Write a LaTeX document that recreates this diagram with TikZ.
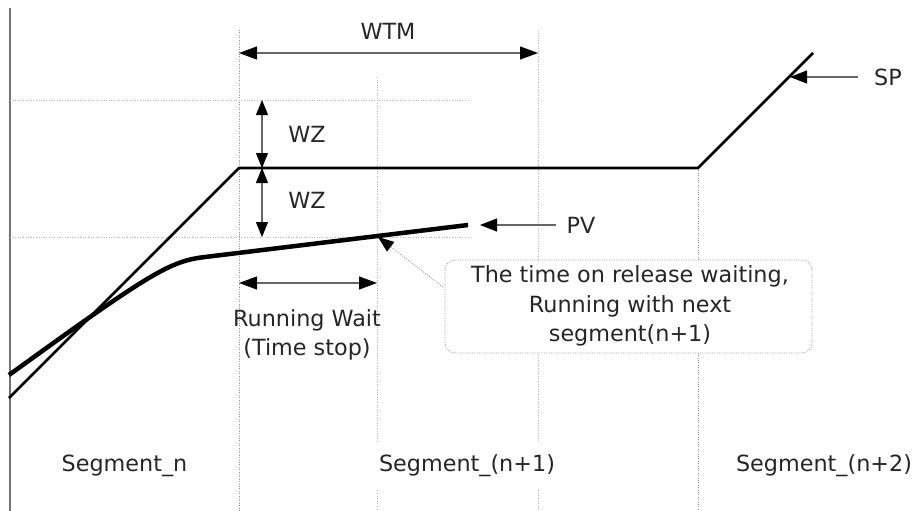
\documentclass[tikz,border=0pt]{standalone}
\usepackage{fontspec}
\setmainfont{DejaVu Sans}
\usetikzlibrary{arrows.meta}
\begin{document}
\begin{tikzpicture}[x=1pt,y=-1pt,
  txt/.style={font=\fontsize{22.3}{29.5}\selectfont, inner sep=0pt, text=black!85},
  gridd/.style={draw=black!45, line width=0.8pt, dash pattern=on 1pt off 1.4pt},
  gridl/.style={draw=black!30, line width=0.8pt, dash pattern=on 1pt off 1.6pt},
  dimarr/.style={{Triangle[length=18pt,width=13pt,color=black]}-{Triangle[length=18pt,width=13pt,color=black]}, line width=1.1pt, draw=black!60},
  zarr/.style={{Triangle[length=15pt,width=12pt,color=black]}-{Triangle[length=15pt,width=12pt,color=black]}, line width=1.1pt, draw=black!60},
  ptr/.style={-{Triangle[length=17pt,width=13pt,color=black]}, line width=1.1pt, draw=black!60},
  spline/.style={line width=2.6pt, line join=miter},
  pvline/.style={line width=4.5pt}]
\useasboundingbox (0,0) rectangle (918,511);

% named points
\coordinate (axT) at (10,8);
\coordinate (axB) at (10,511);
\coordinate (v1T) at (239,30);   \coordinate (v1B) at (239,511);
\coordinate (v2T) at (377,77);   \coordinate (v2B) at (377,511);
\coordinate (v3T) at (538,30);   \coordinate (v3B) at (538,511);
\coordinate (v4T) at (698,168);  \coordinate (v4B) at (698,511);
\coordinate (h1L) at (10,100);   \coordinate (h1R) at (470,100);
\coordinate (h2L) at (10,237);   \coordinate (h2R) at (470,237);
\coordinate (sp0) at (9,398);
\coordinate (sp1) at (239,168);
\coordinate (sp2) at (698,168);
\coordinate (sp3) at (813,53);
\coordinate (pv0) at (9,375);
\coordinate (pv1) at (205,257);
\coordinate (pv2) at (468,225);

% grid
\draw[line width=1.2pt, draw=black!55] (axT) -- (axB);
\draw[gridd] (v1T) -- (v1B);
\draw[gridl] (v2T) -- (v2B);
\draw[gridl] (v3T) -- (v3B);
\draw[gridd] (v4T) -- (v4B);
\draw[gridl] (h1L) -- (h1R);
\draw[gridl] (h2L) -- (h2R);

% SP and PV
\draw[spline] (sp0) -- (sp1) -- (sp2) -- (sp3);
\draw[pvline] (pv0) .. controls (150,273) and (170,261) .. (pv1) -- (pv2);

% WTM
\coordinate (wtmL) at (239,53);
\coordinate (wtmR) at (538,53);
\draw[dimarr] (wtmL) -- (wtmR);
\node[txt] (wtm) at (388,31) {WTM};

% WZ
\coordinate (wz0) at (262,100);
\coordinate (wz1) at (262,168);
\coordinate (wz2) at (262,237);
\draw[zarr] (wz0) -- (wz1);
\draw[zarr] (wz1) -- (wz2);
\node[txt] (wza) at (307,134) {WZ};
\node[txt] (wzb) at (307,200) {WZ};

% Running wait
\coordinate (rwL) at (239,283);
\coordinate (rwR) at (377,283);
\draw[dimarr] (rwL) -- (rwR);
\node[txt, align=center] (rw) at (307,335) {Running Wait\\(Time stop)};

% PV / SP pointers
\coordinate (pvT) at (556,225);
\coordinate (pvH) at (480,225);
\draw[ptr] (pvT) -- (pvH);
\node[txt] (pvlab) at (581,225) {PV};
\coordinate (spT) at (858,77);
\coordinate (spH) at (790,77);
\draw[ptr] (spT) -- (spH);
\node[txt] (splab) at (888,77) {SP};

% callout
\node[draw=black!40, line width=0.8pt, dash pattern=on 1pt off 1.4pt, rounded corners=10pt,
      minimum width=367pt, minimum height=93pt, fill=white] (box) at (628.5,306.5) {};
\node[txt, align=center] (boxtxt) at (630,306) {The time on release waiting,\\Running with next\\segment(n+1)};
\coordinate (cT) at (443,287);
\coordinate (cH) at (378,237);
\draw[-{Triangle[length=16pt,width=12pt,color=black]}, draw=black!45, line width=0.8pt, dash pattern=on 1pt off 1.4pt] (cT) -- (cH);

% segment labels
\node[txt] (s0) at (124.5,466) {Segment\_n};
\node[txt, fill=white, inner xsep=6pt, minimum height=47pt] (s1) at (467,466) {Segment\_(n+1)};
\node[txt] (s2) at (824,466) {Segment\_(n+2)};
\end{tikzpicture}
\end{document}
